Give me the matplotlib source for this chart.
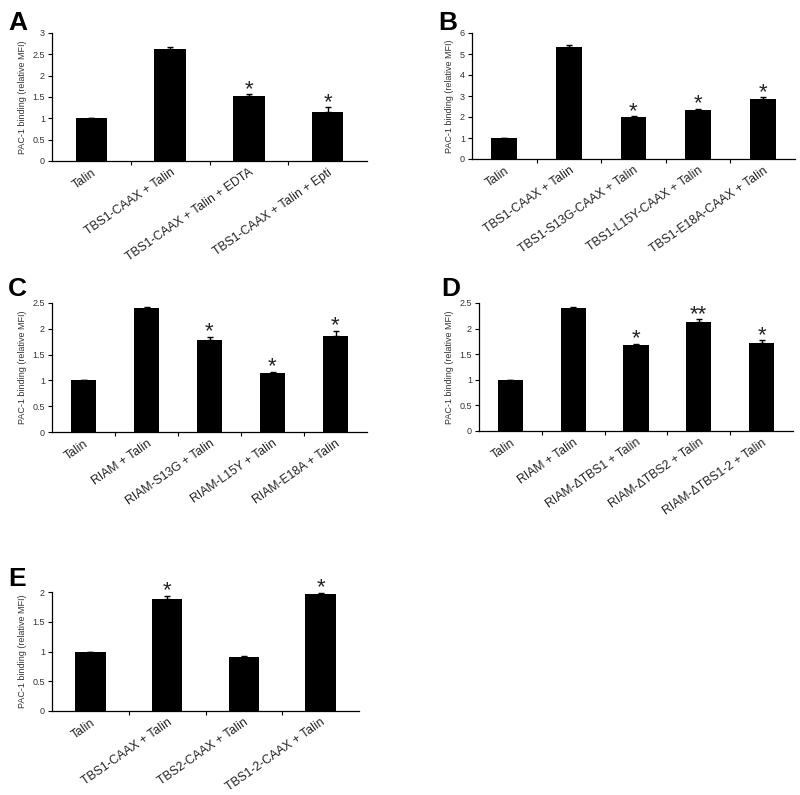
import matplotlib
matplotlib.use("Agg")
import matplotlib.pyplot as plt
import numpy as np

plt.rcParams['font.family'] = ['Liberation Sans', 'DejaVu Sans']

# panel data
labels_a = ["Talin", "TBS1-CAAX + Talin", "TBS1-CAAX + Talin + EDTA", "TBS1-CAAX + Talin + Epti"]
values_a = [1.0, 2.62, 1.52, 1.16]
errors_a = [0.0, 0.06, 0.04, 0.10]
stars_a = ["", "", "*", "*"]

labels_b = ["Talin", "TBS1-CAAX + Talin", "TBS1-S13G-CAAX + Talin", "TBS1-L15Y-CAAX + Talin", "TBS1-E18A-CAAX + Talin"]
values_b = [1.0, 5.33, 1.98, 2.33, 2.88]
errors_b = [0.0, 0.12, 0.06, 0.05, 0.05]
stars_b = ["", "", "*", "*", "*"]

labels_c = ["Talin", "RIAM + Talin", "RIAM-S13G + Talin", "RIAM-L15Y + Talin", "RIAM-E18A + Talin"]
values_c = [1.0, 2.41, 1.79, 1.14, 1.86]
errors_c = [0.0, 0.02, 0.05, 0.03, 0.10]
stars_c = ["", "", "*", "*", "*"]

labels_d = ["Talin", "RIAM + Talin", "RIAM-\u0394TBS1 + Talin", "RIAM-\u0394TBS2 + Talin", "RIAM-\u0394TBS1-2 + Talin"]
values_d = [1.0, 2.41, 1.68, 2.12, 1.72]
errors_d = [0.0, 0.02, 0.02, 0.06, 0.05]
stars_d = ["", "", "*", "**", "*"]

labels_e = ["Talin", "TBS1-CAAX + Talin", "TBS2-CAAX + Talin", "TBS1-2-CAAX + Talin"]
values_e = [1.0, 1.89, 0.91, 1.97]
errors_e = [0.0, 0.05, 0.02, 0.02]
stars_e = ["", "*", "", "*"]

W, H = 800, 795
fig = plt.figure(figsize=(W / 100, H / 100), dpi=100)


def panel(letter, box, letter_xy, labels, values, errors, stars, ymax, ystep):
    l, r, b, t = box
    ax = fig.add_axes([l / W, 1 - b / H, (r - l) / W, (b - t) / H])
    x = np.arange(len(values))
    ax.bar(x, values, width=0.4, color="black", zorder=2)
    ax.errorbar(x, values, yerr=[np.zeros(len(errors)), errors], fmt="none",
                ecolor="black", elinewidth=1.0, capsize=2.5, capthick=1.0, zorder=3)
    for xi, v, e, s in zip(x, values, errors, stars):
        if s:
            ax.annotate(s, (xi, v + e), xytext=(0, -4), textcoords="offset points",
                        ha="center", va="bottom", fontsize=16, color="#222222")
    ax.set_xlim(-0.5, len(values) - 0.5)
    ax.set_ylim(0, ymax)
    ticks = np.arange(0, ymax + ystep / 2, ystep)
    ax.set_yticks(ticks)
    ax.set_yticklabels(["%g" % round(v, 2) for v in ticks], fontsize=6.5, color="#333333")
    ax.set_xticks(x)
    ax.set_xticklabels(labels, rotation=35, ha="right", rotation_mode="anchor",
                       fontsize=8.8, color="#222222")
    ax.tick_params(axis="x", which="major", length=0, pad=4)
    ax.set_xticks(np.arange(0.5, len(values) - 0.5), minor=True)
    ax.tick_params(axis="x", which="minor", length=3, width=0.8, direction="out")
    ax.tick_params(axis="y", length=3, width=0.8, direction="out", pad=2)
    for side in ("top", "right"):
        ax.spines[side].set_visible(False)
    for side in ("left", "bottom"):
        ax.spines[side].set_linewidth(0.9)
    ax.set_ylabel("PAC-1 binding (relative MFI)", fontsize=6.5, color="#333333", labelpad=4)
    fig.text(letter_xy[0] / W, 1 - letter_xy[1] / H, letter, fontsize=19,
             fontweight="bold", ha="left", va="top")
    return ax


panel("A", (52, 367, 161, 33), (8, 11), labels_a, values_a, errors_a, stars_a, 3, 0.5)
panel("B", (472, 795, 159, 33), (438, 11), labels_b, values_b, errors_b, stars_b, 6, 1)
panel("C", (52, 367, 432, 303), (8, 277), labels_c, values_c, errors_c, stars_c, 2.5, 0.5)
panel("D", (479, 793, 431, 303), (441, 277), labels_d, values_d, errors_d, stars_d, 2.5, 0.5)
panel("E", (52, 359, 711, 592), (8, 567), labels_e, values_e, errors_e, stars_e, 2, 0.5)

fig.savefig("out.png", dpi=100, facecolor="white")
